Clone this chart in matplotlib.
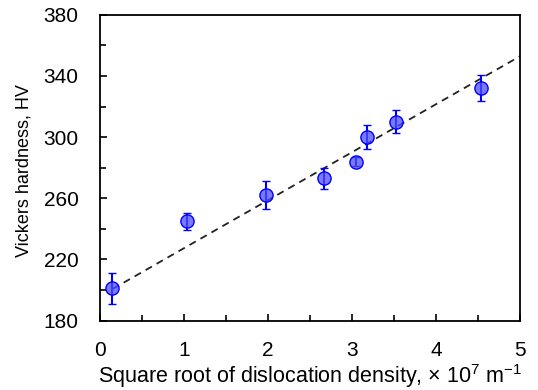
import matplotlib.pyplot as plt
import numpy as np
from matplotlib.ticker import MultipleLocator, FixedLocator

plt.rcParams['font.family'] = ['Liberation Sans', 'DejaVu Sans']
plt.rcParams['mathtext.fontset'] = 'custom'
plt.rcParams['mathtext.rm'] = 'Liberation Sans'
plt.rcParams['mathtext.it'] = 'Liberation Sans:italic'

# data
rho_sqrt = [0.14, 1.03, 1.98, 2.66, 3.05, 3.18, 3.52, 4.53]
hv = [201, 245, 262, 273, 284, 300, 310, 332]
hv_err = [10, 5.5, 9, 7, 3, 8, 7.5, 8.5]
fit_x = [0.15, 5.0]
fit_intercept = 196.0
fit_slope = 31.4
y_major = [180, 220, 260, 300, 340, 380]
y_minor = [200, 240, 280, 320, 360]

fig = plt.figure(figsize=(5.38, 3.9), dpi=100)
ax = fig.add_axes([0.186, 0.178, 0.781, 0.784])

fx = np.array(fit_x)
ax.plot(fx, fit_intercept + fit_slope * fx, ls=(0, (4, 3)), color='#222222', lw=1.3, zorder=1)

ax.errorbar(rho_sqrt, hv, yerr=hv_err, fmt='o', ms=9.5, color='blue',
            mfc=(0.3, 0.3, 1.0, 0.75), mec='blue', mew=1.0,
            ecolor='blue', elinewidth=1.5, capsize=3, capthick=1.5, zorder=3)

ax.set_xlim(0, 5)
ax.set_ylim(180, 380)
ax.xaxis.set_major_locator(MultipleLocator(1))
ax.xaxis.set_minor_locator(MultipleLocator(0.5))
ax.yaxis.set_major_locator(FixedLocator(y_major))
ax.yaxis.set_minor_locator(FixedLocator(y_minor))
ax.tick_params(which='both', direction='in', top=False, right=False, labelsize=15, width=1.2)
ax.tick_params(which='major', length=5)
ax.tick_params(which='minor', length=4)
ax.tick_params(axis='x', which='major', pad=15)
ax.tick_params(axis='y', which='major', pad=15.5)
for s in ax.spines.values():
    s.set_linewidth(1.3)

ax.set_xlabel('Square root of dislocation density, $\\times$ 10$^7$ m$^{-1}$', fontsize=15.5, labelpad=1)
ax.set_ylabel('Vickers hardness, HV', fontsize=13)
ax.yaxis.set_label_coords(-0.16, 0.49)

fig.savefig('out.png', dpi=100)
